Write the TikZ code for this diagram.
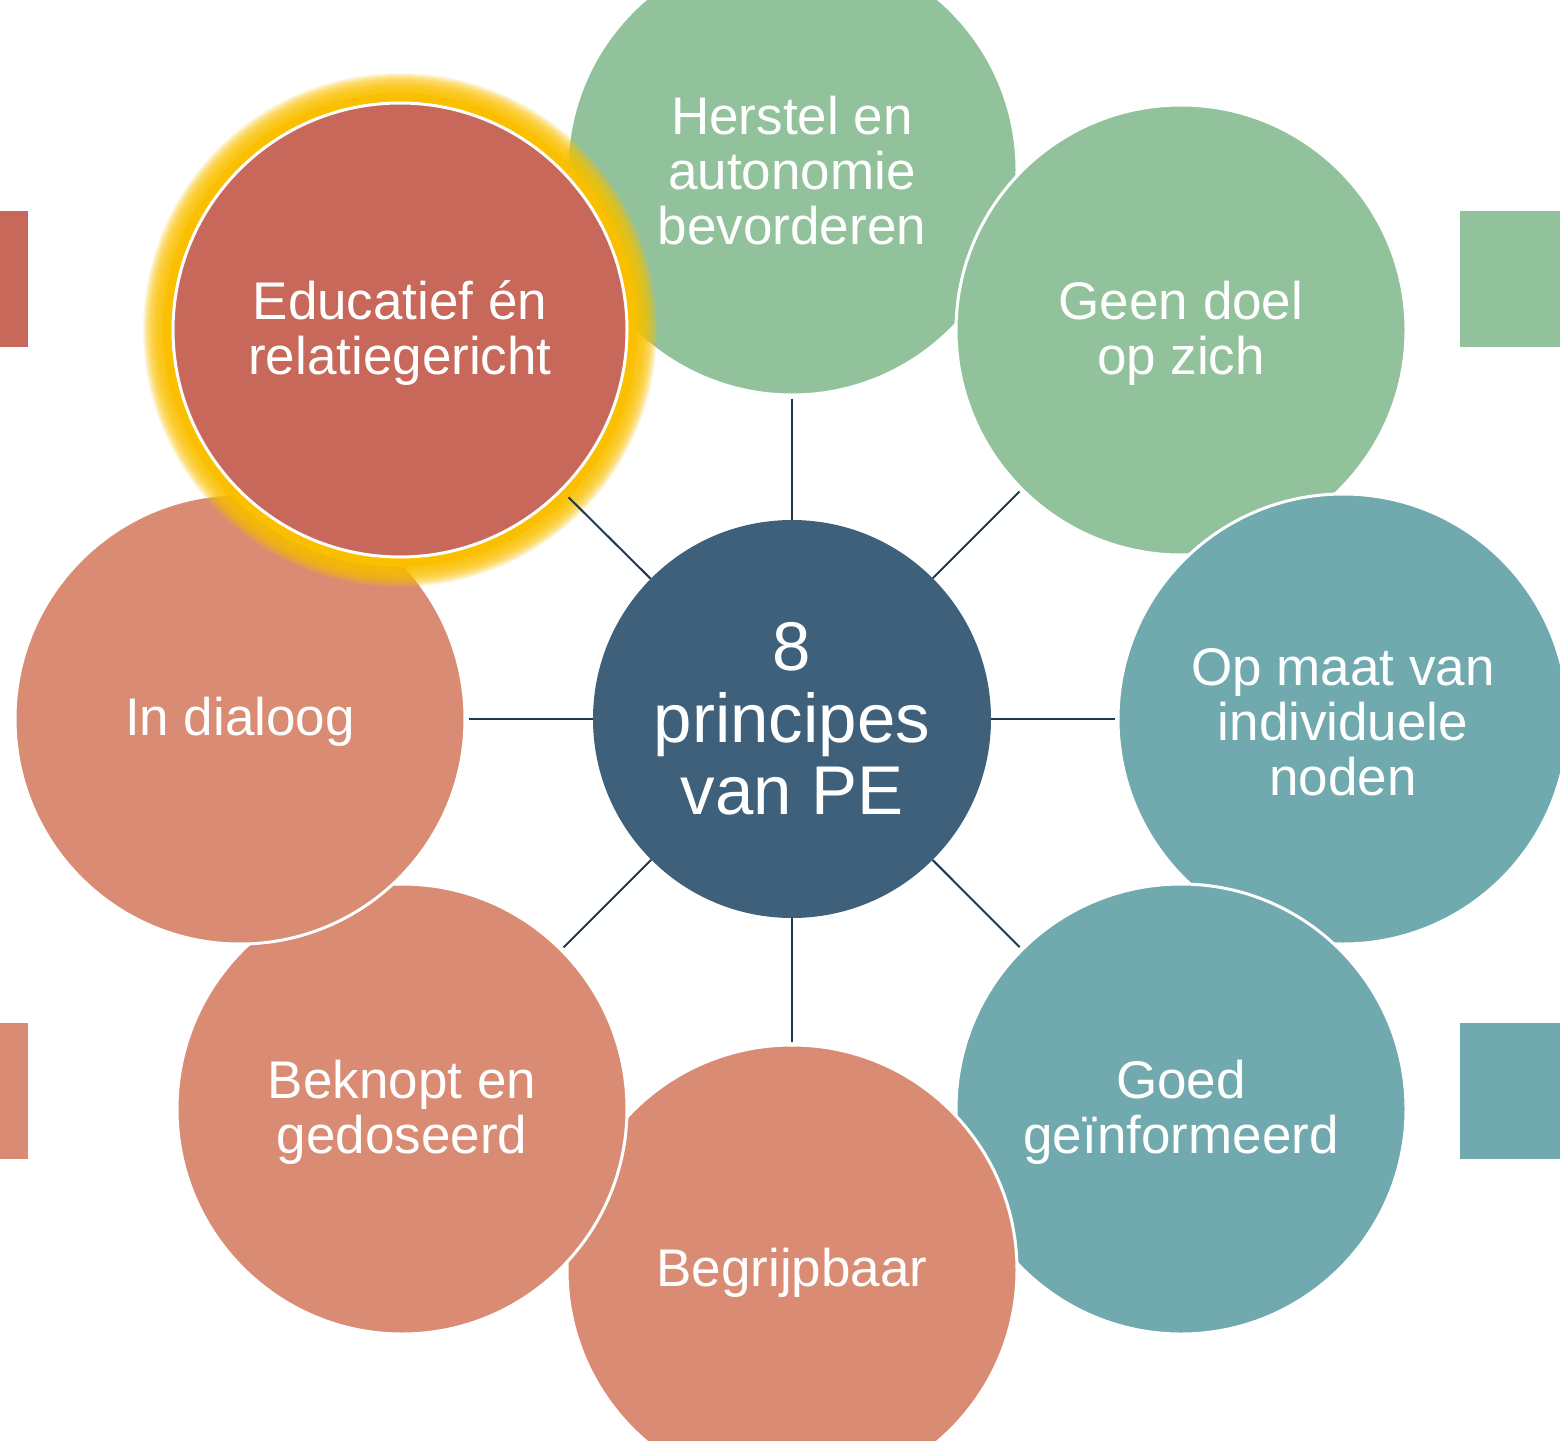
\documentclass[tikz,border=0pt]{standalone}
\usepackage{fontspec}
\setmainfont{Liberation Sans}
\definecolor{pgreen}{RGB}{146,194,155}
\definecolor{pteal}{RGB}{112,170,174}
\definecolor{pred}{RGB}{200,104,90}
\definecolor{psalmon}{RGB}{217,140,115}
\definecolor{pcenter}{RGB}{63,96,122}
\definecolor{pline}{RGB}{31,56,79}
\definecolor{pgold}{RGB}{250,192,0}
\begin{document}
\begin{tikzpicture}[x=1pt,y=-1pt,
  bub/.style={circle, draw=white, line width=3pt, minimum size=450pt, inner sep=0pt},
  txt/.style={text=white, align=center, font=\fontsize{53}{55}\selectfont, yshift=-3pt},
  hub/.style={circle, fill=pcenter, minimum size=398pt, inner sep=0pt,
    text=white, align=center, font=\fontsize{69}{72}\selectfont},
  conn/.style={draw=pline, line width=2pt}]
\useasboundingbox (0,0) rectangle (1560,1440);
\clip (0,0) rectangle (1560,1440);
% side tabs
\fill[pred] (0,211) rectangle (28,347);
\fill[psalmon] (0,1023) rectangle (28,1159);
\fill[pgreen] (1460,211) rectangle (1560,347);
\fill[pteal] (1460,1023) rectangle (1560,1159);
% circles in stacking order
\node[bub, fill=pgreen, label={[txt, yshift=2pt]center:{Herstel en\\autonomie\\bevorderen}}] (herstel) at (792,170) {};
\node[bub, fill=pgreen, label={[txt]center:{Geen doel\\op zich}}] (geen) at (1181,330) {};
\node[bub, fill=pteal, label={[txt]center:{Op maat van\\individuele\\noden}}] (maat) at (1343,719) {};
\node[bub, fill=pteal, label={[txt]center:{Goed\\geïnformeerd}}] (goed) at (1181,1109) {};
\node[bub, fill=psalmon, label={[txt]center:{Begrijpbaar}}] (begr) at (792,1270) {};
\node[bub, fill=psalmon, label={[txt]center:{Beknopt en\\gedoseerd}}] (bekn) at (402,1109) {};
\node[bub, fill=psalmon, label={[txt]center:{In dialoog}}] (dial) at (240,719) {};
% glow
\foreach \d in {30,29,...,12} {\fill[pgold, opacity=0.12] (400,330) circle ({227+\d});}
\fill[pgold] (400,330) circle (237);
\node[bub, fill=pred, minimum size=454pt, label={[txt]center:{Educatief én\\relatiegericht}}] (edu) at (400,330) {};
% hub
\node[hub] (c) at (792,719) {8\\principes\\van PE};
% connectors
\draw[conn, shorten <=2pt] (herstel) -- (c);
\draw[conn, shorten <=2pt] (geen) -- (c);
\draw[conn, shorten <=2pt] (maat) -- (c);
\draw[conn, shorten <=2pt] (goed) -- (c);
\draw[conn, shorten <=2pt] (begr) -- (c);
\draw[conn, shorten <=2pt] (bekn) -- (c);
\draw[conn, shorten <=2pt] (dial) -- (c);
\draw[conn, shorten <=9pt] (edu) -- (c);
\end{tikzpicture}
\end{document}
